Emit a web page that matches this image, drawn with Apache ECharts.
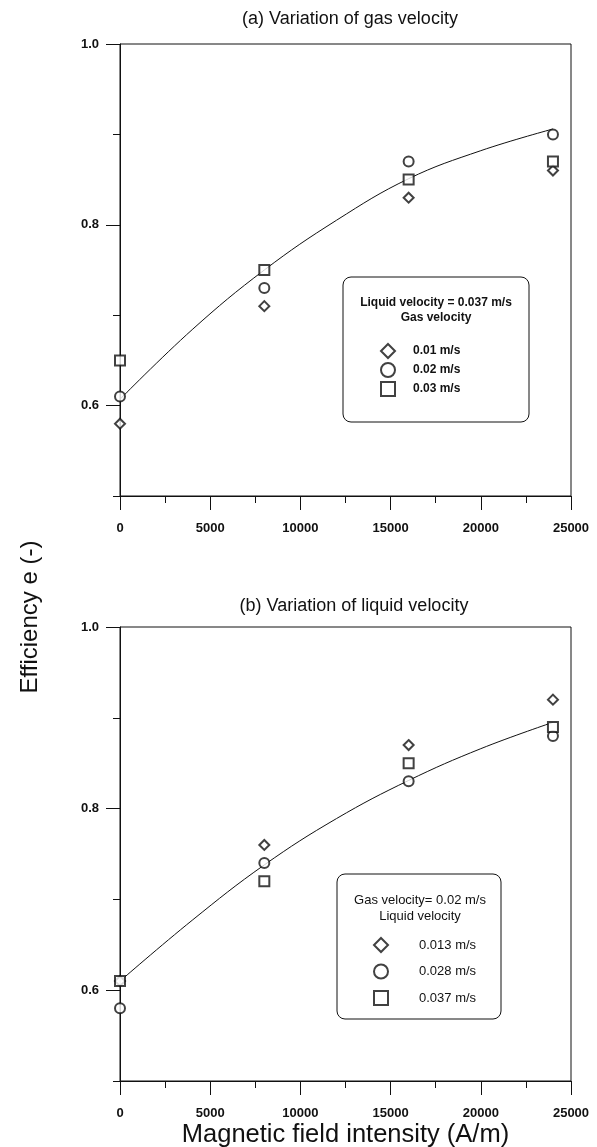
<!DOCTYPE html>
<html>
<head>
<meta charset="utf-8">
<script src="https://cdn.jsdelivr.net/npm/echarts@6/dist/echarts.min.js"></script>
<style>
  html, body { margin: 0; padding: 0; background: #fff; }
  #chart { width: 597px; height: 1147px; }
</style>
</head>
<body>
<div id="chart"></div>
<script>
// Magnetic field intensity (A/m) at which efficiency was measured
const fieldIntensity = [0, 8000, 16000, 24000];

// (a) liquid velocity fixed at 0.037 m/s, gas velocity varied
const gasNames = ['0.01 m/s', '0.02 m/s', '0.03 m/s'];
const gas001 = [0.58, 0.71, 0.83, 0.86];
const gas002 = [0.61, 0.73, 0.87, 0.90];
const gas003 = [0.65, 0.75, 0.85, 0.87];

// (b) gas velocity fixed at 0.02 m/s, liquid velocity varied
const liqNames = ['0.013 m/s', '0.028 m/s', '0.037 m/s'];
const liq0013 = [0.61, 0.76, 0.87, 0.92];
const liq0028 = [0.58, 0.74, 0.83, 0.88];
const liq0037 = [0.61, 0.72, 0.85, 0.89];

// fitted trend curves, sampled along the field axis
const curveX = [0, 4000, 8000, 12000, 16000, 20000, 24000];
const curveA = [0.607, 0.684, 0.750, 0.805, 0.851, 0.882, 0.906];
const curveB = [0.610, 0.677, 0.738, 0.789, 0.831, 0.866, 0.895];

// axis ticks
const xTicks = [0, 5000, 10000, 15000, 20000, 25000];
const yLabelTicks = [0.6, 0.8, 1.0];

const FONT = '"Liberation Sans", Arial, sans-serif';
const INK = '#111';

const pair = (xs, ys) => xs.map((x, i) => [x, ys[i]]);

// fixed plot rectangles; outer bounds are not used to shrink them
const grids = [
  { left: 120, top: 44, width: 451, height: 452 },
  { left: 120, top: 627, width: 451, height: 454 }
].map(g => Object.assign(g, {
  show: true, borderColor: INK, borderWidth: 1, backgroundColor: 'transparent',
  containLabel: false, outerBoundsMode: 'none'
}));

function xAxisFor(gi, withName) {
  return {
    type: 'value', gridIndex: gi,
    min: xTicks[0], max: xTicks[xTicks.length - 1], interval: xTicks[1] - xTicks[0],
    axisLine: { show: true, lineStyle: { color: INK, width: 1 } },
    axisTick: { show: true, length: 14, lineStyle: { color: INK } },
    minorTick: { show: true, splitNumber: 2, length: 7, lineStyle: { color: INK } },
    splitLine: { show: false },
    axisLabel: { margin: 26, color: INK, fontFamily: FONT, fontWeight: 'bold', fontSize: 13,
      formatter: v => String(v) },
    name: withName ? 'Magnetic field intensity (A/m)' : '',
    nameLocation: 'middle', nameGap: 41,
    nameTextStyle: { color: INK, fontFamily: FONT, fontSize: 25.5 }
  };
}

// minor (0.1 step) ticks carry the axis line; a twin axis carries the labelled major ticks
function yAxesFor(gi) {
  return [
    {
      type: 'value', gridIndex: gi, position: 'left', offset: 0,
      min: 0.5, max: 1.0, interval: 0.1,
      axisLine: { show: true, lineStyle: { color: INK, width: 1 } },
      axisTick: { show: true, length: 7, lineStyle: { color: INK } },
      axisLabel: { show: false },
      splitLine: { show: false }
    },
    {
      type: 'value', gridIndex: gi, position: 'left', offset: 0,
      min: 0.5, max: 1.0, interval: 0.1,
      axisLine: { show: false },
      axisTick: { show: true, length: 14, customValues: yLabelTicks, lineStyle: { color: INK } },
      axisLabel: {
        show: true, customValues: yLabelTicks, margin: 21,
        formatter: v => v.toFixed(1),
        color: INK, fontFamily: FONT, fontWeight: 'bold', fontSize: 13
      },
      splitLine: { show: false }
    }
  ];
}

function scatter(name, ys, symbol, gi) {
  return {
    type: 'scatter', name: name,
    xAxisIndex: gi, yAxisIndex: gi * 2,
    data: pair(fieldIntensity, ys),
    symbol: symbol, symbolSize: 10,
    itemStyle: { color: INK, borderWidth: 1 },
    z: 3
  };
}

function curve(ys, gi) {
  return {
    type: 'line', name: 'fit' + gi,
    xAxisIndex: gi, yAxisIndex: gi * 2,
    data: pair(curveX, ys),
    smooth: 0.4, showSymbol: false, symbol: 'none',
    lineStyle: { color: INK, width: 1 },
    z: 2
  };
}

const symbols = ['emptyDiamond', 'emptyCircle', 'emptyRect'];

const option = {
  backgroundColor: '#fff',
  animation: false,
  title: [
    { text: '(a) Variation of gas velocity', left: 345, top: 5, textAlign: 'center',
      textStyle: { color: INK, fontFamily: FONT, fontWeight: 'normal', fontSize: 18 } },
    { text: '(b) Variation of liquid velocity', left: 349, top: 592, textAlign: 'center',
      textStyle: { color: INK, fontFamily: FONT, fontWeight: 'normal', fontSize: 18 } }
  ],
  grid: grids,
  xAxis: [xAxisFor(0, false), xAxisFor(1, true)],
  yAxis: yAxesFor(0).concat(yAxesFor(1)),
  legend: [
    {
      data: gasNames, orient: 'vertical', left: 375, top: 338,
      itemWidth: 14, itemHeight: 14, itemGap: 3, selectedMode: false,
      textStyle: { color: INK, fontFamily: FONT, fontWeight: 'bold', fontSize: 12,
        padding: [0, 0, 0, 13] }
    },
    {
      data: liqNames, orient: 'vertical', left: 368, top: 932,
      itemWidth: 14, itemHeight: 14, itemGap: 10.5, selectedMode: false,
      textStyle: { color: INK, fontFamily: FONT, fontSize: 13,
        padding: [0, 0, 0, 26] }
    }
  ],
  graphic: [
    { type: 'rect', shape: { x: 343, y: 277, width: 186, height: 145, r: 8 },
      style: { fill: 'transparent', stroke: INK, lineWidth: 1 }, z: 1 },
    { type: 'text', x: 436, y: 303,
      style: { text: 'Liquid velocity = 0.037 m/s', align: 'center', verticalAlign: 'middle',
        fill: INK, font: 'bold 12px ' + FONT } },
    { type: 'text', x: 436, y: 318,
      style: { text: 'Gas velocity', align: 'center', verticalAlign: 'middle',
        fill: INK, font: 'bold 12px ' + FONT } },
    { type: 'rect', shape: { x: 337, y: 874, width: 164, height: 145, r: 8 },
      style: { fill: 'transparent', stroke: INK, lineWidth: 1 }, z: 1 },
    { type: 'text', x: 420, y: 900,
      style: { text: 'Gas velocity= 0.02 m/s', align: 'center', verticalAlign: 'middle',
        fill: INK, font: '13px ' + FONT } },
    { type: 'text', x: 420, y: 916,
      style: { text: 'Liquid velocity', align: 'center', verticalAlign: 'middle',
        fill: INK, font: '13px ' + FONT } },
    { type: 'text', x: 30, y: 617, rotation: Math.PI / 2,
      style: { text: 'Efficiency e (-)', align: 'center', verticalAlign: 'middle',
        fill: INK, font: '24px ' + FONT } }
  ],
  series: [
    curve(curveA, 0),
    scatter(gasNames[0], gas001, symbols[0], 0),
    scatter(gasNames[1], gas002, symbols[1], 0),
    scatter(gasNames[2], gas003, symbols[2], 0),
    curve(curveB, 1),
    scatter(liqNames[0], liq0013, symbols[0], 1),
    scatter(liqNames[1], liq0028, symbols[1], 1),
    scatter(liqNames[2], liq0037, symbols[2], 1)
  ]
};

const chart = echarts.init(document.getElementById('chart'), null, { renderer: 'canvas' });
chart.setOption(option);
</script>
</body>
</html>
